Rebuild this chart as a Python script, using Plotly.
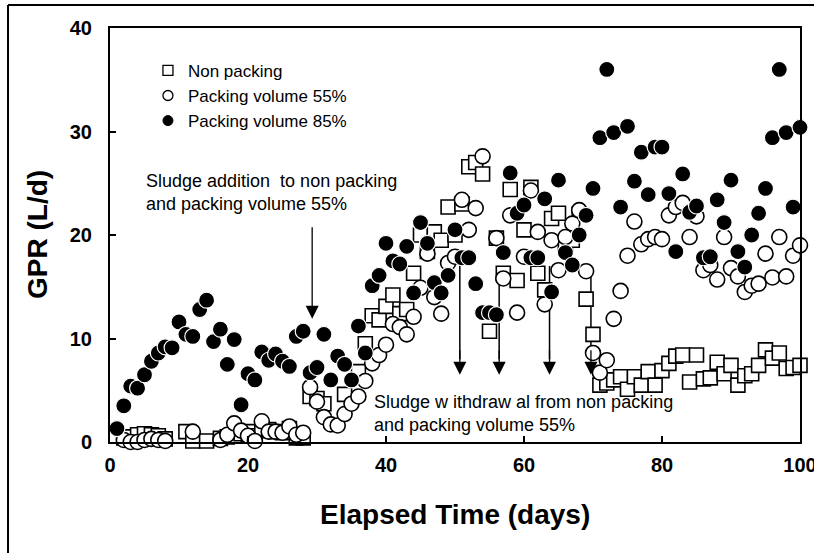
import plotly.graph_objects as go

# ---------------- data ----------------
days_85 = list(range(1, 101))
gpr_85 = [1.3, 3.5, 5.4, 5.2, 6.5, 7.8, 8.6, 9.2, 9.1, 11.6,
          10.4, 10.2, 12.8, 13.7, 9.7, 10.9, 7.5, 9.9, 3.6, 6.6,
          6.0, 8.7, 7.9, 8.5, 7.8, 7.3, 10.2, 10.7, 6.7, 7.2,
          10.4, 6.0, 8.3, 7.5, 6.0, 11.2, 8.6, 15.1, 16.1, 19.2,
          17.5, 17.2, 18.9, 14.4, 21.2, 19.2, 15.4, 14.4, 16.1, 20.5,
          17.8, 17.8, 15.3, 12.5, 12.5, 12.3, 18.3, 26.0, 22.1, 22.9,
          17.8, 17.8, 23.5, 14.5, 25.3, 18.3, 17.1, 20.0, 21.9, 24.5,
          29.4, 36.0, 29.9, 22.7, 30.5, 25.2, 28.0, 23.9, 28.5, 28.5,
          24.0, 18.4, 25.9, 22.2, 22.8, 17.8, 17.9, 23.4, 21.2, 25.3,
          18.4, 16.9, 20.0, 22.1, 24.5, 29.4, 36.0, 29.9, 22.7, 30.4]

days_55 = [2, 3, 4, 5, 6, 7, 8, 12,
           16, 17, 18, 19, 20, 21, 22, 23, 24, 25, 26, 27, 28,
           29, 30, 31, 32, 33, 34, 35, 36, 37, 38, 39, 40, 41, 42, 43, 44,
           45, 46, 47, 48, 49, 50, 51, 52, 53, 54,
           56, 57, 58, 59, 60, 61, 62, 63, 64, 65, 66, 67, 68, 69, 70,
           71, 72, 73, 74, 75, 76, 77, 78, 79, 80,
           81, 82, 83, 84, 85, 86, 87, 88, 89, 90,
           91, 92, 93, 94, 95, 96, 97, 98, 99, 100]
gpr_55 = [0.2, 0.0, 0.0, 0.2, 0.3, 0.2, 0.1, 1.0,
          0.2, 0.7, 1.8, 1.1, 0.6, 0.1, 2.0, 1.0, 1.0, 0.9, 1.5, 0.7, 0.9,
          5.3, 3.9, 2.4, 1.7, 1.6, 2.7, 3.7, 4.4, 5.9, 7.6, 8.4, 9.4, 11.4, 11.1, 10.4, 12.1,
          14.9, 18.2, 14.0, 12.4, 17.3, 17.9, 23.4, 20.5, 22.6, 27.6,
          19.7, 15.8, 21.9, 12.5, 17.9, 24.3, 20.3, 13.3, 19.5, 16.6, 19.8, 21.1, 22.4, 16.5, 8.6,
          6.7, 7.9, 11.9, 14.6, 18.0, 21.3, 19.1, 19.6, 19.8, 19.6,
          21.9, 22.7, 23.1, 19.8, 21.8, 16.6, 17.1, 15.7, 19.8, 16.8,
          16.0, 14.5, 15.1, 15.3, 18.2, 15.9, 19.8, 16.0, 18.0, 19.0]

days_np = [2, 3, 4, 5, 6, 7, 8, 11, 12, 14, 16, 17,
           18, 19, 20, 21, 22, 23, 24, 25, 26, 27, 28,
           29, 30, 31, 34, 36, 37, 38, 39, 40, 41, 42, 43,
           44, 45, 46, 47, 48, 49, 50, 51, 52, 53, 54, 55,
           56, 57, 58, 59, 60, 61, 62, 63, 64, 65, 66, 67, 68, 69, 70,
           71, 72, 73, 74, 75, 76, 77, 78, 79, 80,
           81, 82, 83, 84, 85, 86, 87, 88, 89, 90,
           91, 92, 93, 94, 95, 96, 97, 98, 99, 100]
gpr_np = [0.4, 0.5, 0.7, 0.8, 0.7, 0.6, 0.3, 1.0, 0.1, 0.1, 0.35, 0.5,
          0.6, 0.8, 1.0, 0.6, 1.1, 1.2, 1.0, 0.9, 1.3, 0.4, 0.4,
          4.4, 4.2, 3.7, 4.6, 6.8, 9.5, 12.2, 11.8, 13.1, 14.2, 12.4, 12.8,
          16.3, 20.0, 18.4, 20.3, 19.5, 22.7, 20.0, 23.0, 26.6, 27.0, 25.9, 10.7,
          19.7, 16.3, 24.4, 15.6, 20.5, 24.6, 16.3, 14.7, 21.6, 22.1, 18.8, 19.5, 22.0, 13.8, 10.4,
          5.5, 5.7, 6.0, 6.3, 5.1, 6.3, 5.5, 6.8, 5.5, 6.9,
          7.6, 8.3, 8.4, 5.8, 8.4, 6.1, 6.2, 7.7, 6.6, 7.4,
          5.5, 6.4, 6.6, 7.4, 8.9, 8.1, 8.6, 7.1, 7.2, 7.4]

series_names = ["Non packing", "Packing volume 55%", "Packing volume 85%"]
x_ticks = [0, 20, 40, 60, 80, 100]
y_ticks = [0, 10, 20, 30, 40]

# annotation anchor values (data units)
addition_arrow_day = 29.3
addition_arrow_from = 20.9
addition_arrow_to = 11.9
withdrawal_days = [50.7, 56.4, 63.7, 69.7]
withdrawal_from = 17.0
withdrawal_to = 6.5

FONT = "Liberation Sans, Arial, sans-serif"

fig = go.Figure()

# data traces (squares below, open circles, filled on top)
fig.add_trace(go.Scatter(
    x=days_np, y=gpr_np, mode="markers", showlegend=False, cliponaxis=False,
    marker=dict(symbol="square", size=14, color="white",
                line=dict(color="black", width=1.6))))
fig.add_trace(go.Scatter(
    x=days_55, y=gpr_55, mode="markers", showlegend=False, cliponaxis=False,
    marker=dict(symbol="circle", size=15, color="white",
                line=dict(color="black", width=1.6))))
fig.add_trace(go.Scatter(
    x=days_85, y=gpr_85, mode="markers", showlegend=False, cliponaxis=False,
    marker=dict(symbol="circle", size=16, color="black",
                line=dict(color="white", width=1.2))))

# legend entries (smaller symbols, like the original)
fig.add_trace(go.Scatter(x=[None], y=[None], mode="markers", name=series_names[0],
                         marker=dict(symbol="square", size=10, color="white",
                                     line=dict(color="black", width=1.3))))
fig.add_trace(go.Scatter(x=[None], y=[None], mode="markers", name=series_names[1],
                         marker=dict(symbol="circle", size=10, color="white",
                                     line=dict(color="black", width=1.3))))
fig.add_trace(go.Scatter(x=[None], y=[None], mode="markers", name=series_names[2],
                         marker=dict(symbol="circle", size=10, color="black",
                                     line=dict(color="black", width=1))))

shapes = []
for d in withdrawal_days:
    shapes.append(dict(type="line", xref="x", yref="y", layer="below",
                       x0=d, x1=d, y0=withdrawal_from, y1=withdrawal_to + 1.5,
                       line=dict(color="black", width=1.5)))
# outer frame (only top & left visible in the crop)
shapes.append(dict(type="line", xref="paper", yref="paper",
                   x0=-0.1478, x1=1.05, y0=1.0556, y1=1.0556,
                   line=dict(color="black", width=2)))
shapes.append(dict(type="line", xref="paper", yref="paper",
                   x0=-0.1478, x1=-0.1478, y0=1.0556, y1=-0.3,
                   line=dict(color="black", width=2)))

annotations = []
annotations.append(dict(x=addition_arrow_day, y=addition_arrow_to,
                        ax=addition_arrow_day, ay=addition_arrow_from,
                        xref="x", yref="y", axref="x", ayref="y", text="",
                        showarrow=True, arrowhead=2, arrowsize=2, arrowwidth=1.3,
                        arrowcolor="black"))
for d in withdrawal_days:
    annotations.append(dict(x=d, y=withdrawal_to, ax=d, ay=withdrawal_to + 2.5,
                            xref="x", yref="y", axref="x", ayref="y", text="",
                            showarrow=True, arrowhead=2, arrowsize=2, arrowwidth=1.3,
                            arrowcolor="black"))
annotations.append(dict(x=4.9, y=24.1, xref="x", yref="y", xanchor="left", yanchor="middle",
                        align="left", showarrow=False,
                        text="Sludge addition\u00a0 to non packing<br>and packing volume 55%",
                        font=dict(family=FONT, size=18, color="black")))
annotations.append(dict(x=38.0, y=2.8, xref="x", yref="y", xanchor="left", yanchor="middle",
                        align="left", showarrow=False,
                        text="Sludge w ithdraw al from non packing<br>and packing volume 55%",
                        font=dict(family=FONT, size=18, color="black")))
# axis titles
annotations.append(dict(x=0.5, y=(442 - 514) / 414, xref="paper", yref="paper",
                        xanchor="center", yanchor="middle", showarrow=False,
                        text="<b>Elapsed Time (days)</b>",
                        font=dict(family=FONT, size=28, color="black")))
annotations.append(dict(x=(37 - 110) / 690, y=0.5, xref="paper", yref="paper",
                        xanchor="center", yanchor="middle", showarrow=False, textangle=-90,
                        text="<b>GPR (L/d)</b>",
                        font=dict(family=FONT, size=28, color="black")))

fig.update_layout(
    template="none",
    width=814, height=553,
    margin=dict(l=110, r=14, t=28, b=111, autoexpand=False),
    paper_bgcolor="white", plot_bgcolor="white",
    font=dict(family=FONT, color="black"),
    showlegend=True,
    legend=dict(x=0.055, y=0.94, xanchor="left", yanchor="top",
                bgcolor="rgba(0,0,0,0)", borderwidth=0,
                font=dict(family=FONT, size=17, color="black"),
                itemwidth=30),
    shapes=shapes, annotations=annotations,
)
fig.update_xaxes(range=[0, 100], tickvals=x_ticks, ticktext=[str(v) for v in x_ticks],
                 ticks="inside", ticklen=6, tickwidth=1.5, tickcolor="black",
                 showline=True, linewidth=2, linecolor="black", mirror=True,
                 showgrid=False, zeroline=False, ticklabelstandoff=4,
                 ticklabeloverflow="allow", automargin=False,
                 tickfont=dict(family=FONT, size=20, color="black", weight="bold"))
fig.update_yaxes(range=[0, 40], tickvals=y_ticks, ticktext=[str(v) for v in y_ticks],
                 ticks="inside", ticklen=6, tickwidth=1.5, tickcolor="black",
                 showline=True, linewidth=2, linecolor="black", mirror=True,
                 showgrid=False, zeroline=False, ticklabelstandoff=12,
                 ticklabeloverflow="allow", automargin=False,
                 tickfont=dict(family=FONT, size=20, color="black", weight="bold"))

fig.write_html("out.html", config={"displayModeBar": False},
               post_script="document.body.style.margin='0';document.body.style.overflow='hidden';")
